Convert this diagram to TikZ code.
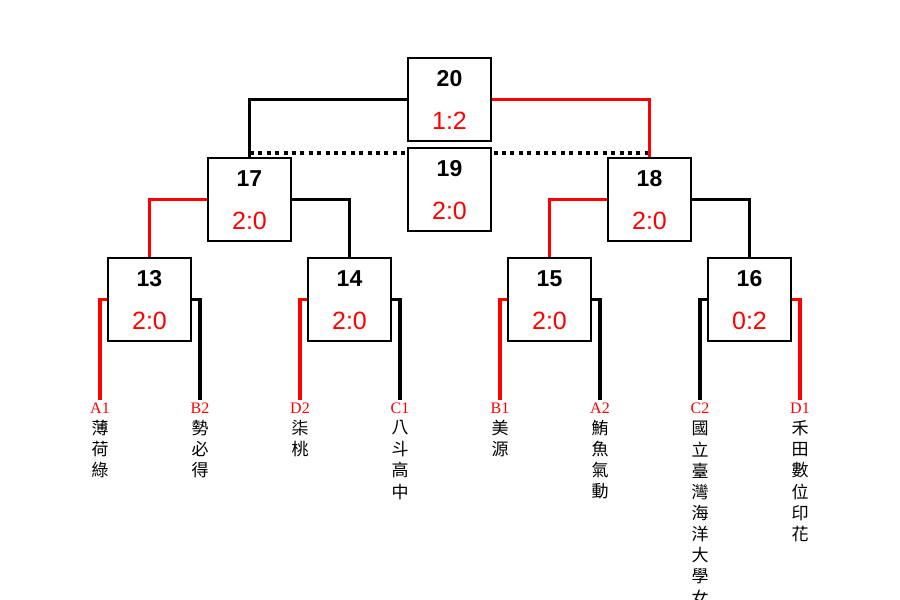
\documentclass[tikz,border=0pt]{standalone}
\usepackage{fontspec}
\setmainfont{Liberation Sans}
\newfontfamily\cjk{Noto Sans CJK TC}
\newfontfamily\serifl{Liberation Serif}
\usetikzlibrary{calc}
\tikzset{
  conn/.style={line width=3.8pt},
  redconn/.style={conn, draw=red},
  dotline/.style={line width=3.6pt, dash pattern=on 4pt off 4.4pt},
  matchbox/.style={draw=black, fill=white, line width=2pt, minimum width=83pt, minimum height=83pt, inner sep=0pt},
  numtxt/.style={font=\fontsize{23}{23}\selectfont\bfseries, inner sep=0pt},
  scoretxt/.style={font=\fontsize{25}{25}\selectfont, text=red, inner sep=0pt},
  leaflab/.style={font=\serifl\fontsize{16}{16}\selectfont, text=red, inner sep=0pt},
  cjkc/.style={font=\cjk\fontsize{17}{17}\selectfont, inner sep=0pt},
  anchorbox/.style={minimum width=83pt, minimum height=83pt, inner sep=0pt}
}
\newcommand\mkmatch[5]{% name, x, y, number, score
  \node[matchbox] (#1) at (#2,#3) {};
  \node[numtxt] (#1-num) at (#2,#3-20.5) {#4};
  \node[scoretxt] (#1-sc) at (#2,#3+21) {#5};
}
\newcommand\leafcol[4]{% name, x, label, chars
  \node[leaflab] (#1) at (#2,408) {#3};
  \foreach \c [count=\i] in {#4} \node[cjkc] (#1-\i) at (#2,{428+21.2*(\i-1)}) {\c};
}
\begin{document}
\begin{tikzpicture}[x=1pt,y=-1pt]
\useasboundingbox (0,0) rectangle (900,600);
\clip (0,0) rectangle (900,600);
% leaf end coordinates
\coordinate (e1) at (100,400);
\coordinate (e2) at (200,400);
\coordinate (e3) at (300,400);
\coordinate (e4) at (400,400);
\coordinate (e5) at (500,400);
\coordinate (e6) at (600,400);
\coordinate (e7) at (700,400);
\coordinate (e8) at (800,400);
\coordinate (d1) at (250,153);
\coordinate (d2) at (648,153);
% anchor boxes
\path (449.5,99.5) node[anchorbox] (p20) {};
\path (449.5,189.5) node[anchorbox] (p19) {};
\path (249.5,199.5) node[anchorbox] (p17) {};
\path (649.5,199.5) node[anchorbox] (p18) {};
\path (149.5,299.5) node[anchorbox] (p13) {};
\path (349.5,299.5) node[anchorbox] (p14) {};
\path (549.5,299.5) node[anchorbox] (p15) {};
\path (749.5,299.5) node[anchorbox] (p16) {};
% dotted line
\draw[dotline] (d1) -- (d2);
% connectors
\draw[conn] (p20.west) -| (p17.north);
\draw[redconn] (p20.east) -| (p18.north);
\draw[redconn] (p17.west) -| (p13.north);
\draw[conn] (p17.east) -| (p14.north);
\draw[redconn] (p18.west) -| (p15.north);
\draw[conn] (p18.east) -| (p16.north);
\draw[redconn] (p13.west) -| (e1);
\draw[conn] (p13.east) -| (e2);
\draw[redconn] (p14.west) -| (e3);
\draw[conn] (p14.east) -| (e4);
\draw[redconn] (p15.west) -| (e5);
\draw[conn] (p15.east) -| (e6);
\draw[conn] (p16.west) -| (e7);
\draw[redconn] (p16.east) -| (e8);
% boxes
\mkmatch{n20}{449.5}{99.5}{20}{1:2}
\mkmatch{n19}{449.5}{189.5}{19}{2:0}
\mkmatch{n17}{249.5}{199.5}{17}{2:0}
\mkmatch{n18}{649.5}{199.5}{18}{2:0}
\mkmatch{n13}{149.5}{299.5}{13}{2:0}
\mkmatch{n14}{349.5}{299.5}{14}{2:0}
\mkmatch{n15}{549.5}{299.5}{15}{2:0}
\mkmatch{n16}{749.5}{299.5}{16}{0:2}
% leaves
\leafcol{t1}{100}{A1}{薄,荷,綠}
\leafcol{t2}{200}{B2}{勢,必,得}
\leafcol{t3}{300}{D2}{柒,桃}
\leafcol{t4}{400}{C1}{八,斗,高,中}
\leafcol{t5}{500}{B1}{美,源}
\leafcol{t6}{600}{A2}{鮪,魚,氣,動}
\leafcol{t7}{700}{C2}{國,立,臺,灣,海,洋,大,學,女}
\leafcol{t8}{800}{D1}{禾,田,數,位,印,花}
\end{tikzpicture}
\end{document}
